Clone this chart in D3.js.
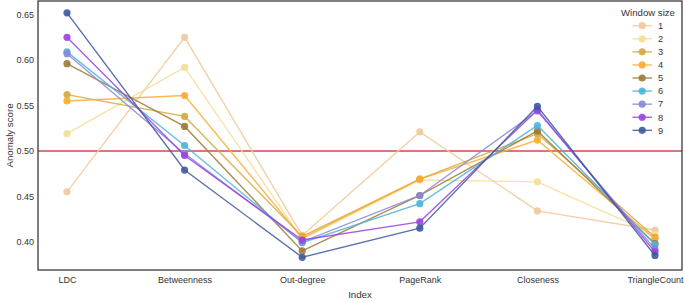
<!DOCTYPE html>
<html><head><meta charset="utf-8">
<script src="https://cdn.jsdelivr.net/npm/d3@7"></script>
<style>body{margin:0;background:#fff}svg{display:block}text{font-family:"Liberation Sans",Arial,sans-serif;fill:#333}</style>
</head><body><svg id="c" width="685" height="301"></svg>
<script>
const categories = ["LDC","Betweenness","Out-degree","PageRank","Closeness","TriangleCount"];
const windowSizes = ["1","2","3","4","5","6","7","8","9"];
const s1 = [0.455,0.625,0.407,0.521,0.434,0.413];
const s2 = [0.519,0.592,0.403,0.468,0.466,0.408];
const s3 = [0.562,0.538,0.406,0.469,0.519,0.405];
const s4 = [0.555,0.561,0.404,0.469,0.512,0.403];
const s5 = [0.596,0.527,0.390,0.451,0.522,0.398];
const s6 = [0.609,0.506,0.399,0.442,0.528,0.397];
const s7 = [0.607,0.497,0.400,0.451,0.544,0.392];
const s8 = [0.625,0.495,0.402,0.422,0.545,0.389];
const s9 = [0.652,0.479,0.383,0.415,0.549,0.385];
const seriesValues = [s1,s2,s3,s4,s5,s6,s7,s8,s9];
const colors = ["#f2c89b","#f3de95","#d6a73e","#fbab35","#9c7b36","#4db2da","#8a86d8","#9a42e2","#3e58a0"];
const yTicks = [0.40,0.45,0.50,0.55,0.60,0.65];
const threshold = 0.50;

const svg = d3.select("#c");
const L=38,R=682,T=1,B=270;
const x = d3.scalePoint().domain(categories).range([67,655]);
const y = d3.scaleLinear().domain([0.369,0.665]).range([B,T]);

// threshold
svg.append("line").attr("x1",L).attr("x2",R).attr("y1",y(threshold)).attr("y2",y(threshold))
  .attr("stroke","#cc4b4f").attr("stroke-width",1.5);

const line = d3.line().x((d,i)=>x(categories[i])).y(d=>y(d));
seriesValues.forEach((vals,k)=>{
  const g = svg.append("g");
  g.append("path").attr("d",line(vals)).attr("fill","none").attr("stroke",colors[k])
    .attr("stroke-width",1.4).attr("stroke-opacity",0.85);
  g.selectAll("circle").data(vals).join("circle")
    .attr("cx",(d,i)=>x(categories[i])).attr("cy",d=>y(d)).attr("r",3.6)
    .attr("fill",colors[k]).attr("fill-opacity",0.9);
});

// frame
svg.append("rect").attr("x",L).attr("y",T).attr("width",R-L).attr("height",B-T)
  .attr("fill","none").attr("stroke","#3a3a3a").attr("stroke-width",1.3);

// axes
const xa = svg.append("g").attr("transform",`translate(0,${B})`)
  .call(d3.axisBottom(x).tickSize(0).tickPadding(7));
xa.select(".domain").remove();
xa.selectAll("text").style("font-size","9px").attr("fill","#333").style("font-family","'Liberation Sans',Arial,sans-serif");
const ya = svg.append("g").attr("transform",`translate(${L},0)`)
  .call(d3.axisLeft(y).tickValues(yTicks).tickFormat(d3.format(".2f")).tickSize(0).tickPadding(4));
ya.select(".domain").remove();
ya.selectAll("text").style("font-size","9px").attr("fill","#333").style("font-family","'Liberation Sans',Arial,sans-serif");

svg.append("text").attr("x",(L+R)/2).attr("y",298).attr("text-anchor","middle")
  .style("font-size","9.7px").text("Index");
svg.append("text").attr("transform",`translate(13,${(T+B)/2}) rotate(-90)`).attr("text-anchor","middle")
  .style("font-size","9.7px").text("Anomaly score");

// legend
const lg = svg.append("g");
lg.append("text").attr("x",648).attr("y",16).attr("text-anchor","middle").style("font-size","9.6px").text("Window size");
windowSizes.forEach((w,k)=>{
  const yy = 25.7 + k*13.08;
  lg.append("line").attr("x1",632.5).attr("x2",652).attr("y1",yy).attr("y2",yy)
    .attr("stroke",colors[k]).attr("stroke-width",1.4).attr("stroke-opacity",0.85);
  lg.append("circle").attr("cx",642.2).attr("cy",yy).attr("r",3.6).attr("fill",colors[k]).attr("fill-opacity",0.9);
  lg.append("text").attr("x",658).attr("y",yy+3.3).style("font-size","9.3px").text(w);
});
</script></body></html>
